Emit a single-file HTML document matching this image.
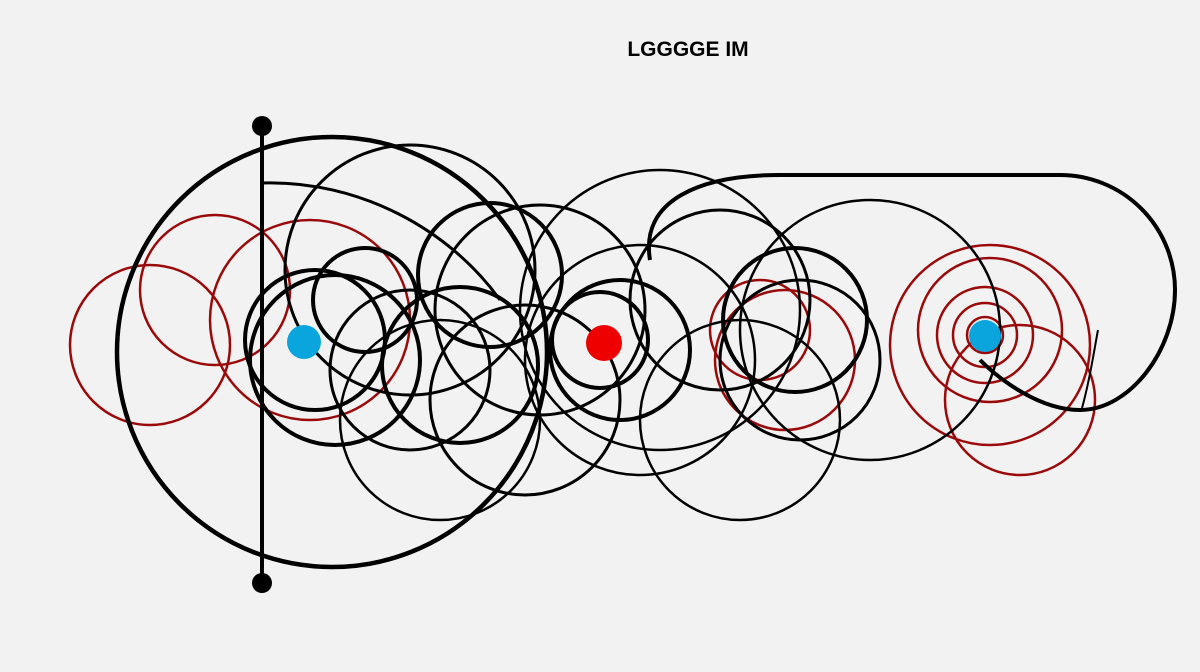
<!DOCTYPE html>
<html><head><style>html,body{margin:0;padding:0;background:#f2f2f2;width:1200px;height:672px;overflow:hidden}</style></head>
<body>
<svg width="1200" height="672" viewBox="0 0 1200 672" xmlns="http://www.w3.org/2000/svg">
<rect width="1200" height="672" fill="#f2f2f2"/>
<text x="688" y="56" text-anchor="middle" font-family="Liberation Sans, sans-serif" font-weight="bold" font-size="21" fill="#000">LGGGGE IM</text>
<g fill="none" stroke="#9a0a0a" stroke-width="2.5">
<circle cx="150" cy="345" r="80"/>
<circle cx="215" cy="290" r="75"/>
<circle cx="310" cy="320" r="100"/>
<circle cx="785" cy="360" r="70"/>
<circle cx="760" cy="330" r="50"/>
<circle cx="985" cy="335" r="18"/>
<circle cx="985" cy="335" r="32"/>
<circle cx="985" cy="335" r="48"/>
<circle cx="990" cy="330" r="72"/>
<circle cx="990" cy="345" r="100"/>
<circle cx="1020" cy="400" r="75"/>
</g>
<g fill="none" stroke="#000" stroke-width="4">
<path d="M262 183 C360 180 450 230 500 300" stroke-width="3"/>
<circle cx="332" cy="352" r="215" stroke-width="4.5"/>
<circle cx="410" cy="270" r="125" stroke-width="3"/>
<circle cx="315" cy="340" r="70"/>
<circle cx="335" cy="360" r="85"/>
<circle cx="365" cy="300" r="52"/>
<circle cx="410" cy="370" r="80" stroke-width="3"/>
<circle cx="460" cy="365" r="78"/>
<circle cx="490" cy="275" r="72"/>
<circle cx="525" cy="400" r="95" stroke-width="3"/>
<circle cx="440" cy="420" r="100" stroke-width="2.5"/>
<circle cx="540" cy="310" r="105" stroke-width="3"/>
<circle cx="600" cy="340" r="48"/>
<circle cx="620" cy="350" r="70"/>
<circle cx="640" cy="360" r="115" stroke-width="2.5"/>
<circle cx="660" cy="310" r="140" stroke-width="2.5"/>
<circle cx="720" cy="300" r="90" stroke-width="3"/>
<circle cx="795" cy="320" r="72"/>
<circle cx="800" cy="360" r="80" stroke-width="3"/>
<circle cx="740" cy="420" r="100" stroke-width="2.5"/>
<circle cx="870" cy="330" r="130" stroke-width="2.5"/>
<path d="M650 260 C640 200 700 175 780 175 L1060 175 A115 115 0 0 1 1175 290 C1175 350 1130 410 1080 410 C1040 410 1000 380 980 360" stroke-width="4"/>
<path d="M1082 408 C1090 380 1095 345 1098 330" stroke-width="2"/>
<line x1="262" y1="126" x2="262" y2="583"/>
</g>
<circle cx="262" cy="126" r="10" fill="#000"/>
<circle cx="262" cy="583" r="10" fill="#000"/>
<circle cx="304" cy="342" r="17" fill="#0aa5dc"/>
<circle cx="985" cy="336" r="16" fill="#0aa5dc"/>
<circle cx="604" cy="343" r="18" fill="#ee0000"/>
</svg>
</body></html>
